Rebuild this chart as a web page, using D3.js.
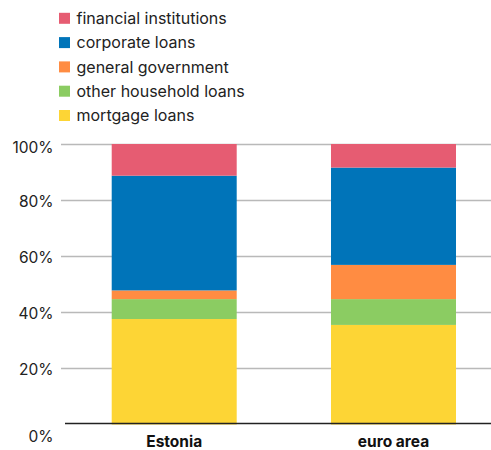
<!DOCTYPE html>
<html>
<head>
<meta charset="utf-8">
<script src="https://cdn.jsdelivr.net/npm/d3@7"></script>
<style>
  html, body { margin: 0; padding: 0; background: #fff; }
  svg { display: block; font-family: Inter, "Liberation Sans", Arial, sans-serif; }
</style>
</head>
<body>
<svg id="chart" width="491" height="450"></svg>
<script>
// Loan portfolio structure, share of total (%)
const categories = ["Estonia", "euro area"];
const seriesNames = ["mortgage loans", "other household loans", "general government", "corporate loans", "financial institutions"];
const mortgageLoans = [37.6, 35.5];
const otherHouseholdLoans = [7.1, 9.2];
const generalGovernment = [3.1, 12.2];
const corporateLoans = [40.9, 34.7];
const financialInstitutions = [11.3, 8.4];
const colors = ["#fdd535", "#8bcc62", "#ff8c42", "#0074b9", "#e65c72"];
const yTicks = [0, 20, 40, 60, 80, 100];

const rows = categories.map((c, i) => ({
  category: c,
  "mortgage loans": mortgageLoans[i],
  "other household loans": otherHouseholdLoans[i],
  "general government": generalGovernment[i],
  "corporate loans": corporateLoans[i],
  "financial institutions": financialInstitutions[i]
}));

const svg = d3.select("#chart");
const W = 491;

const x = d3.scaleBand().domain(categories).range([65, 502.7]).paddingInner(0.43).paddingOuter(0.213);
const y = d3.scaleLinear().domain([0, 100]).range([424.5, 144]);
const color = d3.scaleOrdinal().domain(seriesNames).range(colors);

// gridlines
svg.append("g")
  .selectAll("line")
  .data(yTicks.filter(t => t > 0))
  .join("line")
  .attr("x1", 61).attr("x2", W)
  .attr("y1", d => Math.round(y(d)) + 0.5).attr("y2", d => Math.round(y(d)) + 0.5)
  .attr("stroke", "#b9b9b9").attr("stroke-width", 1.4);

// stacked bars
const stack = d3.stack().keys(seriesNames)(rows);
svg.append("g")
  .selectAll("g")
  .data(stack)
  .join("g")
  .attr("fill", d => color(d.key))
  .selectAll("rect")
  .data(d => d)
  .join("rect")
  .attr("x", d => x(d.data.category))
  .attr("width", x.bandwidth())
  .attr("y", d => y(d[1]))
  .attr("height", d => y(d[0]) - y(d[1]));

// baseline
svg.append("line")
  .attr("x1", 65).attr("x2", W)
  .attr("y1", 423.5).attr("y2", 423.5)
  .attr("stroke", "#222").attr("stroke-width", 1.3);

// y axis labels
const yAxis = d3.axisLeft(y).tickValues(yTicks).tickFormat(d => d + "%").tickSize(0).tickPadding(0);
const ya = svg.append("g").attr("transform", "translate(53.5,0)").call(yAxis);
ya.select(".domain").remove();
ya.selectAll("text")
  .attr("font-size", 15.5).attr("fill", "#222")
  .attr("font-family", "Inter, 'Liberation Sans', Arial, sans-serif")
  .attr("dy", d => d === 100 ? "0.56em" : d === 0 ? "1.11em" : "0.39em");

// x axis labels
const xAxis = d3.axisBottom(x).tickSize(0).tickPadding(0);
const xa = svg.append("g").attr("transform", "translate(0,447.3)").call(xAxis);
xa.select(".domain").remove();
xa.selectAll("text")
  .attr("font-size", 15.5).attr("font-weight", "bold").attr("fill", "#111")
  .attr("font-family", "Inter, 'Liberation Sans', Arial, sans-serif")
  .attr("dy", "0");

// legend
const legendOrder = seriesNames.slice().reverse();
const lg = svg.append("g")
  .selectAll("g")
  .data(legendOrder)
  .join("g")
  .attr("transform", (d, i) => `translate(59,${18.3 + i * 24.3})`);
lg.append("rect")
  .attr("x", 0).attr("y", -5.5).attr("width", 11).attr("height", 11)
  .attr("fill", d => color(d));
lg.append("text")
  .attr("x", 17.5).attr("dy", "0.36em")
  .attr("font-size", 16).attr("fill", "#222")
  .text(d => d);
</script>
</body>
</html>
